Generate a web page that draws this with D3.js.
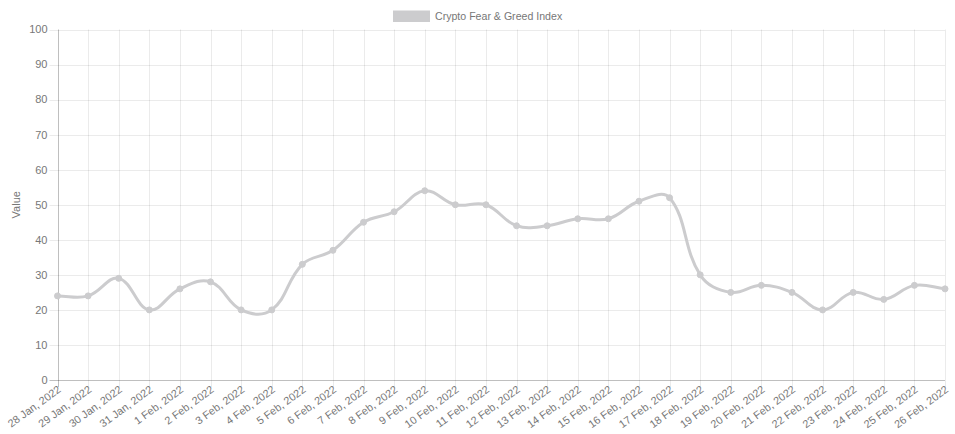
<!DOCTYPE html>
<html>
<head>
<meta charset="utf-8">
<script src="https://cdn.jsdelivr.net/npm/d3@7"></script>
<style>
html,body{margin:0;padding:0;background:#fff;}
text{font-family:"Liberation Sans",Arial,Helvetica,sans-serif;}
</style>
</head>
<body>
<svg id="chart" width="955" height="434"></svg>
<script>
const categories = ["28 Jan, 2022","29 Jan, 2022","30 Jan, 2022","31 Jan, 2022","1 Feb, 2022","2 Feb, 2022","3 Feb, 2022","4 Feb, 2022","5 Feb, 2022","6 Feb, 2022","7 Feb, 2022","8 Feb, 2022","9 Feb, 2022","10 Feb, 2022","11 Feb, 2022","12 Feb, 2022","13 Feb, 2022","14 Feb, 2022","15 Feb, 2022","16 Feb, 2022","17 Feb, 2022","18 Feb, 2022","19 Feb, 2022","20 Feb, 2022","21 Feb, 2022","22 Feb, 2022","23 Feb, 2022","24 Feb, 2022","25 Feb, 2022","26 Feb, 2022"];
const values = [24,24,29,20,26,28,20,20,33,37,45,48,54,50,50,44,44,46,46,51,52,30,25,27,25,20,25,23,27,26];
const yTicks = [0,10,20,30,40,50,60,70,80,90,100];
const seriesName = "Crypto Fear & Greed Index";
const yTitle = "Value";

const svg = d3.select("#chart");
const mLeft = 57.5, mRight = 945, mTop = 29.5, mBottom = 380;
const lineColor = "rgb(204,204,206)";
const textColor = "#777";

const x = d3.scalePoint().domain(categories).range([mLeft, mRight]);
const y = d3.scaleLinear().domain([0, 100]).range([mBottom, mTop]);

const g = svg.append("g");
g.selectAll("line.hg").data(yTicks).join("line")
  .attr("x1", mLeft - 8).attr("x2", mRight)
  .attr("y1", d => Math.round(y(d)) + 0.5).attr("y2", d => Math.round(y(d)) + 0.5)
  .attr("stroke", d => d === 0 ? "rgba(0,0,0,0.25)" : "rgba(0,0,0,0.08)")
  .attr("stroke-width", 1);
g.selectAll("line.vg").data(categories).join("line")
  .attr("x1", d => Math.round(x(d)) + 0.5).attr("x2", d => Math.round(x(d)) + 0.5)
  .attr("y1", mTop).attr("y2", mBottom + 7)
  .attr("stroke", (d, i) => i === 0 ? "rgba(0,0,0,0.25)" : "rgba(0,0,0,0.08)")
  .attr("stroke-width", 1);

g.selectAll("text.yt").data(yTicks).join("text")
  .attr("x", mLeft - 10).attr("y", d => y(d))
  .attr("dy", "0.35em").attr("text-anchor", "end")
  .attr("font-size", 11).attr("fill", textColor)
  .text(d => d);

g.selectAll("text.xt").data(categories).join("text")
  .attr("transform", d => `translate(${x(d) + 2},${mBottom + 8}) rotate(-36)`)
  .attr("dy", "0.35em").attr("text-anchor", "end")
  .attr("font-size", 10.8).attr("fill", textColor)
  .text(d => d);

svg.append("text")
  .attr("transform", `translate(16,${(mTop + mBottom) / 2}) rotate(-90)`)
  .attr("text-anchor", "middle").attr("dy", "0.35em")
  .attr("font-size", 11).attr("fill", textColor)
  .text(yTitle);

const legend = svg.append("g");
legend.append("rect").attr("x", 393).attr("y", 10.5).attr("width", 37).attr("height", 11.5)
  .attr("fill", lineColor);
legend.append("text").attr("x", 435).attr("y", 16.5).attr("dy", "0.35em")
  .attr("font-size", 10.6).attr("fill", textColor).text(seriesName);

const pts = values.map((v, i) => ({x: x(categories[i]), y: y(v)}));
const tension = 0.4;
pts.forEach((p, i) => {
  const prev = pts[i - 1] || p, next = pts[i + 1] || p;
  const d01 = Math.hypot(p.x - prev.x, p.y - prev.y);
  const d12 = Math.hypot(next.x - p.x, next.y - p.y);
  let s01 = d01 / (d01 + d12), s12 = d12 / (d01 + d12);
  if (isNaN(s01)) s01 = 0; if (isNaN(s12)) s12 = 0;
  const fa = tension * s01, fb = tension * s12;
  p.cpx1 = p.x - fa * (next.x - prev.x); p.cpy1 = p.y - fa * (next.y - prev.y);
  p.cpx2 = p.x + fb * (next.x - prev.x); p.cpy2 = p.y + fb * (next.y - prev.y);
  const clampY = v => Math.max(mTop, Math.min(mBottom, v));
  const clampX = v => Math.max(mLeft, Math.min(mRight, v));
  p.cpx1 = clampX(p.cpx1); p.cpx2 = clampX(p.cpx2);
  p.cpy1 = clampY(p.cpy1); p.cpy2 = clampY(p.cpy2);
});
const path = d3.path();
path.moveTo(pts[0].x, pts[0].y);
for (let i = 1; i < pts.length; i++) {
  const a = pts[i - 1], b = pts[i];
  path.bezierCurveTo(a.cpx2, a.cpy2, b.cpx1, b.cpy1, b.x, b.y);
}
svg.append("path").attr("d", path.toString())
  .attr("fill", "none").attr("stroke", lineColor).attr("stroke-width", 3);

svg.append("g").selectAll("circle").data(values).join("circle")
  .attr("cx", (d, i) => x(categories[i])).attr("cy", d => y(d))
  .attr("r", 3).attr("fill", lineColor).attr("stroke", lineColor).attr("stroke-width", 1);
</script>
</body>
</html>
